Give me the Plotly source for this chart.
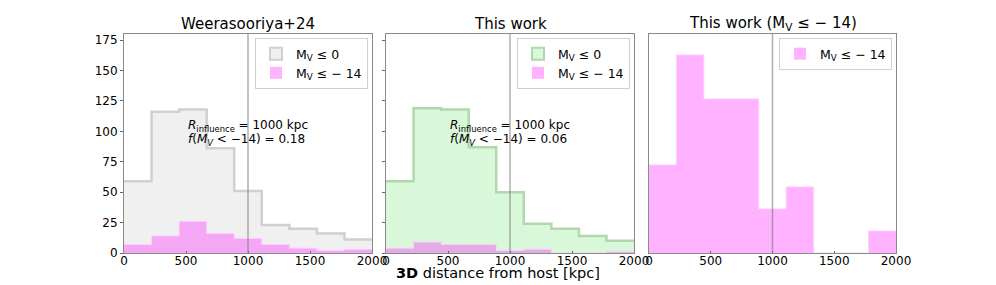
import plotly.graph_objects as go
from plotly.subplots import make_subplots

# ---- data ----
BIN_EDGES = [0, 222.2, 444.4, 666.7, 888.9, 1111.1, 1333.3, 1555.6, 1777.8, 2000]
W24_ALL = [59, 116, 118, 86, 51, 23, 20, 16, 11]
W24_BRIGHT = [7, 14, 26, 16, 12, 7, 4, 2, 3]
TW_ALL = [59, 119, 118, 87, 50, 24, 20, 14, 10]
TW_BRIGHT = [4, 9, 7, 7, 2, 3, 0, 0, 1]
R_INFLUENCE = 1000
F_W24 = "0.18"
F_TW = "0.06"
PANEL_TITLES = ["Weerasooriya+24", "This work", "This work (M<sub>V</sub> ≤ − 14)"]
X_TICKS = [0, 500, 1000, 1500, 2000]
Y_TICKS = [0, 25, 50, 75, 100, 125, 150, 175]
LABEL_ALL = "M<sub>V</sub> ≤ 0"
LABEL_BRIGHT = "M<sub>V</sub> ≤ − 14"

FONT = "DejaVu Sans"
GRAY_FILL = "rgba(128,128,128,0.12)"
GRAY_LINE = "#d0d0d0"
GREEN_FILL = "rgba(0,200,0,0.15)"
GREEN_LINE = "#b0d8aa"
MAG_FILL = "rgba(255,0,255,0.30)"
MAG_LINE = "rgba(255,205,255,0.9)"

W, H = 996, 285
OFF = 8  # page offset of the figure inside the browser window


def px(xp):
    return (xp - OFF) / W


def py(yp):
    return 1 - (yp - OFF) / H


def step(counts):
    return list(BIN_EDGES), list(counts) + [counts[-1]]


fig = make_subplots(rows=1, cols=3)


def add_hist(counts, col, name, fill, line, lw, legend):
    x, y = step(counts)
    fig.add_trace(go.Scatter(x=x, y=y, mode="lines", line_shape="hv",
                             fill="tozeroy", fillcolor=fill,
                             line=dict(color=line, width=lw),
                             name=name, showlegend=False,
                             hoverinfo="skip"), row=1, col=col)
    fig.add_trace(go.Bar(x=[None], y=[None], name=name, legend=legend,
                         marker=dict(color=fill, line=dict(color=line if lw > 1.5 else fill,
                                                           width=2 if lw > 1.5 else 0))),
                  row=1, col=col)


add_hist(W24_ALL, 1, LABEL_ALL, GRAY_FILL, GRAY_LINE, 2.5, "legend")
add_hist(W24_BRIGHT, 1, LABEL_BRIGHT, MAG_FILL, MAG_LINE, 1, "legend")
add_hist(TW_ALL, 2, LABEL_ALL, GREEN_FILL, GREEN_LINE, 2.5, "legend2")
add_hist(TW_BRIGHT, 2, LABEL_BRIGHT, MAG_FILL, MAG_LINE, 1, "legend2")
add_hist(TW_BRIGHT, 3, LABEL_BRIGHT, MAG_FILL, MAG_LINE, 1, "legend3")

doms = [(124, 372), (386, 634), (649, 896)]
ytop, ybot = 34, 253
ydom = [py(ybot), py(ytop)]

axis_common = dict(showline=True, mirror=True, linecolor="#8a8a8a", linewidth=1,
                   showgrid=False, zeroline=False, automargin=False,
                   tickcolor="#666", tickfont=dict(family=FONT, size=12, color="black"))

for i, (a, b) in enumerate(doms):
    xa = "xaxis" if i == 0 else f"xaxis{i+1}"
    ya = "yaxis" if i == 0 else f"yaxis{i+1}"
    fig.layout[xa].update(domain=[px(a), px(b)], range=[0, 2000],
                          tickvals=X_TICKS, ticktext=[str(v) for v in X_TICKS],
                          ticks="inside", ticklen=2, ticklabelstandoff=-3,
                          **axis_common)
    fig.layout[ya].update(domain=ydom, tickvals=Y_TICKS, ticks="outside", ticklen=3,
                          **axis_common)

fig.layout.yaxis.update(range=[0, 180])
fig.layout.yaxis2.update(range=[0, 180], showticklabels=False)
fig.layout.yaxis3.update(range=[0, 9.95], showticklabels=False, ticks="")

for i in range(3):
    xr = "x" if i == 0 else f"x{i+1}"
    yr = "y domain" if i == 0 else f"y{i+1} domain"
    fig.add_shape(type="line", xref=xr, yref=yr, x0=R_INFLUENCE, x1=R_INFLUENCE,
                  y0=0, y1=1, line=dict(color="rgba(120,120,120,0.6)", width=1.5),
                  layer="above")

for (a, b), t in zip(doms, PANEL_TITLES):
    fig.add_annotation(text=t, xref="paper", yref="paper", x=px((a + b) / 2),
                       y=py(24), xanchor="center", yanchor="middle",
                       showarrow=False, font=dict(family=FONT, size=15, color="black"))

for i, fval in [(0, F_W24), (1, F_TW)]:
    xr = "x" if i == 0 else f"x{i+1}"
    yr = "y" if i == 0 else f"y{i+1}"
    fig.add_annotation(text=f"<i>R</i><sub>influence</sub> = {R_INFLUENCE} kpc",
                       xref=xr, yref=yr, x=500, y=104.5, xanchor="left",
                       yanchor="middle", showarrow=False,
                       font=dict(family=FONT, size=12, color="black"))
    fig.add_annotation(text=f"<i>f</i>(<i>M<sub>V</sub></i> < −14) = {fval}",
                       xref=xr, yref=yr, x=500, y=92.5, xanchor="left",
                       yanchor="middle", showarrow=False,
                       font=dict(family=FONT, size=12, color="black"))

fig.add_annotation(text="<b>3D</b> distance from host [kpc]", xref="paper", yref="paper",
                   x=px(498), y=py(273), xanchor="center", yanchor="middle",
                   showarrow=False, font=dict(family=FONT, size=14.5, color="black"))

leg_common = dict(bgcolor="white", bordercolor="#d0d0d0", borderwidth=1,
                  font=dict(family=FONT, size=12.5, color="black"),
                  xanchor="right", yanchor="top", itemwidth=30,
                  tracegroupgap=0)

fig.update_layout(
    width=W, height=H, margin=dict(l=0, r=0, t=0, b=0),
    paper_bgcolor="white", plot_bgcolor="white",
    font=dict(family=FONT, size=12, color="black"),
    legend=dict(x=px(368), y=py(38), **leg_common),
    legend2=dict(x=px(630), y=py(38), **leg_common),
    legend3=dict(x=px(892), y=py(38), **leg_common),
)

fig.write_html("out.html")
